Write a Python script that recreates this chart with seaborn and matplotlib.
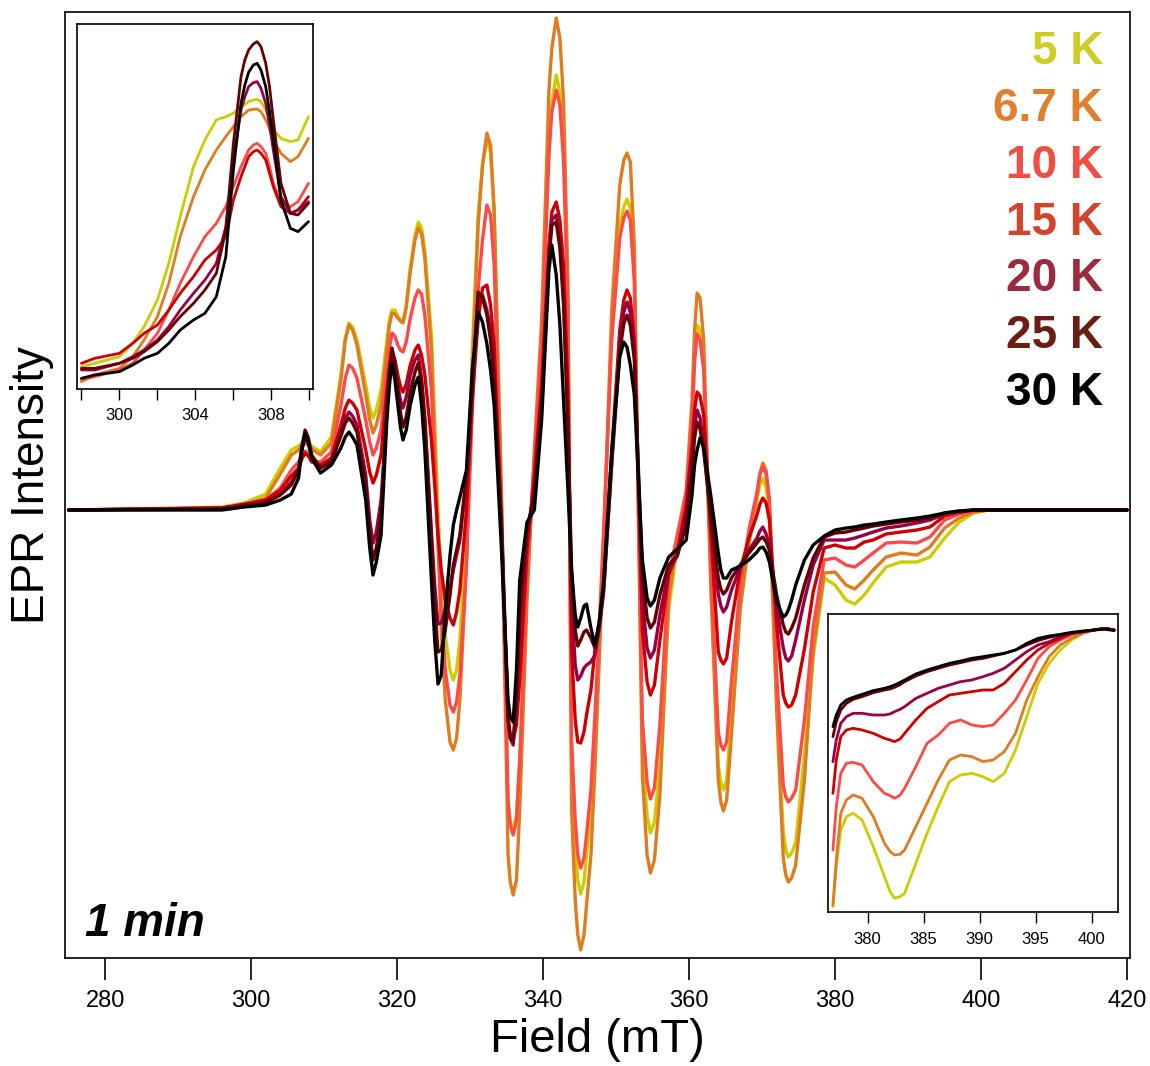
import numpy as np
import pandas as pd
import matplotlib
matplotlib.use("Agg")
import matplotlib.pyplot as plt
import seaborn as sns

sns.set_theme(style="ticks")
plt.rcParams["font.family"] = ["Liberation Sans", "DejaVu Sans"]
plt.rcParams["text.color"] = "black"
plt.rcParams["axes.labelcolor"] = "black"
plt.rcParams["xtick.color"] = "black"

# temperatures and colours
temps = ["5 K", "6.7 K", "10 K", "15 K", "20 K", "25 K", "30 K"]
line_colors = ["#cccc00", "#e07b20", "#ff4848", "#cc0000", "#990044", "#660000", "#000000"]
label_colors = ["#cfcc22", "#e0802e", "#f24e43", "#d3442c", "#9c2b40", "#6b1d12", "#000000"]

# main spectrum (field in mT, intensity arb. units)
field = [275.0, 296.0, 299.0, 302.0, 304.0, 305.5, 306.5, 306.95, 307.4, 307.85, 308.3, 309.5,
         311.0, 312.3, 312.9, 313.4, 313.9, 314.5, 315.7, 316.25, 316.7, 317.15, 317.8, 318.6, 318.95, 319.3, 319.7, 320.1,
         320.45, 320.8, 321.25, 321.8, 322.45, 322.9, 323.35, 323.8, 324.7, 325.15, 325.6, 326.05, 326.6, 327.25, 327.7, 328.15, 328.6, 329.5,
         330.3, 331.1, 331.7, 332.3, 332.8, 333.3, 334.3, 335.2, 335.5, 335.9, 336.35, 336.8, 337.8, 338.8,
         339.8, 340.8, 341.2, 341.8, 342.3, 342.8, 343.4, 343.9, 344.4, 344.75, 345.15, 345.6, 345.95, 346.55, 347.1, 347.7, 348.3,
         349.4, 350.5, 351.05, 351.5, 351.95, 352.5, 353.6, 354.25, 354.7, 355.25, 356.0, 357.2, 358.4, 359.6,
         360.4, 360.75, 361.1, 361.5, 362.0, 363.0, 364.0, 364.35, 364.7, 365.15, 365.8, 367.0, 368.2, 369.3,
         369.7, 370.1, 370.55, 371.0, 372.0, 372.9, 373.25, 373.6, 374.05, 374.6, 375.8, 377.0, 378.5, 380.0,
         381.5, 382.7, 384.0, 385.2, 387.0, 389.0, 391.2, 393.0, 395.0, 397.0, 399.0, 401.0, 404.0, 420.0]

epr_5k = [0, 3, 7, 16, 42, 60, 64, 67, 69, 67, 64, 58,
          73, 135, 172, 187, 183, 170, 125, 102, 92, 100, 120, 170, 190, 200, 200, 194,
          190, 188, 205, 242, 275, 288, 282, 260, 175, 90, 0, -75, -125, -160, -170, -160, -130, -15,
          160, 295, 345, 370, 358, 295, 20, -295, -312, -320, -305, -250, -70, 50,
          170, 365, 408, 435, 418, 365, 210, -250, -335, -370, -384, -372, -345, -300, -224, -130, -25,
          175, 285, 303, 311, 302, 235, -240, -305, -323, -312, -255, -100, -35, 5,
          90, 155, 185, 180, 145, -80, -255, -272, -280, -270, -205, -93, -35, 10,
          25, 32, 22, -5, -195, -322, -340, -347, -343, -333, -245, -147, -68, -75,
          -90, -94, -85, -73, -57, -52, -52, -47, -28, -12, -3, 0, 0, 0]
epr_6k7 = [0, 2, 5, 12, 36, 55, 60, 64, 67, 65, 61, 55,
           67, 130, 170, 185, 180, 165, 115, 90, 77, 85, 105, 160, 185, 197, 196, 192,
           189, 187, 202, 238, 270, 282, 276, 252, 160, 65, -30, -120, -190, -232, -240, -228, -190, -55,
           140, 285, 345, 377, 365, 300, 10, -345, -372, -385, -370, -300, -90, 60,
           190, 420, 462, 492, 472, 410, 230, -300, -390, -425, -440, -425, -395, -345, -260, -150, -30,
           200, 325, 350, 357, 348, 265, -265, -345, -363, -350, -285, -90, -25, 20,
           110, 180, 217, 212, 170, -80, -270, -292, -301, -290, -225, -100, -30, 15,
           36, 47, 40, 10, -200, -348, -365, -372, -368, -355, -270, -140, -63, -62,
           -75, -79, -70, -60, -47, -43, -45, -37, -18, -8, -2, 0, 0, 0]
epr_10k = [0, 2, 5, 10, 22, 40, 48, 55, 59, 56, 50, 48,
           58, 105, 132, 145, 142, 132, 90, 68, 55, 62, 80, 140, 162, 177, 174, 165,
           160, 158, 168, 192, 212, 220, 216, 195, 120, 45, -30, -100, -160, -195, -202, -192, -165, -55,
           100, 220, 270, 305, 295, 245, 0, -290, -315, -325, -310, -250, -65, 50,
           165, 355, 398, 420, 405, 350, 200, -230, -310, -345, -358, -348, -325, -280, -205, -115, -20,
           170, 272, 292, 299, 290, 228, -210, -272, -289, -278, -215, -65, -25, 15,
           90, 148, 176, 170, 140, -60, -222, -235, -240, -232, -172, -75, -20, 18,
           36, 43, 36, 10, -165, -275, -287, -292, -288, -280, -210, -117, -50, -48,
           -55, -57, -50, -43, -33, -32, -33, -27, -10, -4, -1, 0, 0, 0]
epr_15k = [0, 2, 6, 10, 20, 34, 42, 51, 57, 54, 48, 45,
           52, 85, 102, 110, 107, 100, 60, 38, 27, 35, 55, 120, 143, 158, 150, 135,
           124, 118, 126, 145, 160, 165, 155, 135, 70, 25, -25, -60, -90, -108, -115, -102, -80, 0,
           110, 190, 222, 225, 205, 165, -20, -210, -225, -230, -215, -170, -40, 35,
           125, 265, 298, 308, 290, 245, 120, -140, -210, -232, -233, -222, -205, -180, -140, -110, -75,
           58, 180, 210, 220, 212, 170, -120, -172, -185, -175, -130, -65, -42, 5,
           65, 100, 118, 114, 95, -25, -142, -150, -154, -148, -112, -60, -28, -5,
           6, 12, 7, -10, -115, -185, -193, -197, -195, -185, -139, -82, -38, -35,
           -38, -38, -32, -30, -24, -22, -20, -17, -6, -2, 0, 0, 0, 0]
epr_20k = [0, 2, 5, 8, 16, 28, 40, 60, 73, 66, 52, 42,
           50, 78, 92, 98, 94, 85, 35, -10, -33, -22, 10, 100, 135, 154, 145, 125,
           110, 102, 113, 135, 150, 155, 132, 91, -21, -75, -114, -113, -100, -78, -60, -45, -30, 30,
           120, 215, 215, 200, 180, 140, -10, -205, -228, -235, -195, -120, -25, 20,
           110, 255, 290, 295, 270, 215, 90, -90, -155, -170, -166, -158, -155, -152, -145, -118, -82,
           49, 169, 198, 208, 198, 160, -90, -138, -148, -140, -105, -60, -46, -5,
           50, 85, 100, 92, 66, -13, -84, -96, -102, -97, -80, -58, -40, -28,
           -21, -17, -24, -35, -97, -138, -148, -151, -146, -130, -90, -55, -30, -30,
           -30, -28, -25, -22, -18, -16, -13, -10, -4, -2, 0, 0, 0, 0]
epr_25k = [0, 1, 4, 7, 15, 25, 40, 64, 80, 72, 55, 42,
           48, 74, 87, 92, 87, 78, 25, -22, -50, -38, -5, 100, 140, 162, 148, 120,
           98, 83, 93, 118, 138, 147, 128, 90, -30, -95, -142, -140, -120, -85, -55, -40, -25, 35,
           125, 218, 212, 195, 170, 130, -20, -210, -228, -232, -185, -100, -18, 15,
           100, 250, 285, 288, 262, 205, 85, -60, -120, -136, -130, -122, -120, -128, -138, -115, -78,
           45, 158, 186, 195, 185, 150, -65, -108, -118, -112, -85, -55, -45, -15,
           40, 72, 88, 81, 59, -8, -68, -79, -84, -80, -68, -55, -43, -33,
           -29, -27, -32, -40, -85, -115, -122, -124, -118, -108, -75, -48, -27, -23,
           -22, -20, -18, -16, -14, -12, -10, -8, -3, -1, 0, 0, 0, 0]
epr_30k = [0, 0, 3, 5, 10, 16, 32, 60, 77, 68, 52, 37,
           45, 62, 73, 78, 73, 65, 10, -38, -65, -52, -25, 90, 125, 147, 130, 105,
           83, 70, 80, 105, 125, 133, 105, 60, -70, -130, -174, -165, -100, -45, -15, 0, 13, 40,
           140, 198, 188, 166, 140, 105, -40, -190, -207, -212, -160, -70, -12, 0,
           90, 240, 265, 235, 185, 110, 20, -60, -105, -117, -108, -96, -94, -118, -135, -112, -71,
           59, 153, 168, 163, 145, 115, -50, -88, -96, -90, -68, -47, -39, -30,
           15, 45, 60, 72, 63, 13, -43, -60, -68, -68, -60, -56, -50, -42,
           -38, -37, -42, -52, -92, -107, -105, -100, -90, -75, -50, -35, -26, -20,
           -18, -17, -15, -14, -12, -10, -8, -6, -3, -1, 0, 0, 0, 0]

# low-field inset (298-310 mT)
field_low = [298.0, 298.7, 300.0, 300.7, 301.3, 302.0, 302.6, 303.2, 303.9, 304.5, 305.1, 305.6, 306.0,
             306.4, 306.6, 306.8, 307.05, 307.25, 307.45, 307.7, 307.9, 308.1, 308.5, 309.0, 309.4, 309.95]
low_5k = [6.7, 7.7, 9.7, 13.7, 18.7, 26.7, 37.7, 51.7, 66.7, 74.7, 80.7, 81.7, 82.7,
          84.7, 85.4, 86.2, 86.7, 86.9, 86.2, 83.7, 81.2, 77.7, 75.2, 74.2, 74.7, 81.7]
low_6k7 = [2.2, 4.2, 6.2, 9.7, 14.7, 21.7, 31.7, 45.7, 57.7, 65.7, 71.7, 75.7, 78.7,
           81.7, 82.7, 83.7, 83.9, 84.0, 83.2, 80.7, 78.2, 74.7, 70.7, 68.2, 69.7, 75.2]
low_10k = [2.7, 3.7, 5.7, 7.7, 11.7, 16.7, 23.7, 31.7, 39.7, 45.7, 49.7, 54.7, 60.7,
           66.7, 69.2, 71.7, 73.2, 73.7, 72.7, 70.7, 66.7, 61.7, 55.7, 54.7, 56.2, 61.7]
low_15k = [7.7, 9.2, 10.7, 13.7, 16.7, 19.2, 23.7, 28.7, 33.7, 38.7, 41.7, 45.7, 56.7,
           63.7, 66.7, 69.7, 71.2, 71.7, 70.7, 68.7, 64.7, 60.7, 54.7, 52.7, 53.7, 57.7]
low_20k = [5.7, 5.7, 7.7, 9.7, 11.7, 14.7, 18.7, 23.7, 28.7, 32.7, 37.7, 48.7, 68.7,
           83.7, 87.7, 90.7, 91.9, 92.2, 90.2, 85.7, 79.2, 71.7, 57.7, 52.7, 53.7, 56.2]
low_25k = [6.2, 6.2, 7.7, 9.2, 11.2, 14.2, 17.7, 21.7, 25.7, 29.7, 34.7, 47.7, 73.7,
           93.7, 98.7, 101.7, 103.5, 104.2, 102.7, 97.7, 90.7, 80.7, 61.7, 52.7, 52.2, 55.7]
low_30k = [3.2, 4.2, 5.2, 7.2, 9.2, 10.7, 13.7, 17.7, 20.7, 22.7, 27.7, 39.7, 65.7,
           85.7, 91.2, 95.0, 97.2, 97.7, 95.7, 90.7, 83.2, 74.7, 56.7, 48.2, 47.2, 50.2]

# high-field inset (377-402 mT)
field_high = [376.9, 377.2, 377.6, 378.1, 378.7, 379.5, 380.5, 381.5, 382.0, 382.4, 382.9,
              383.3, 384.3, 385.3, 386.3, 387.3, 388.3, 389.3, 390.3, 391.2, 392.2, 393.2,
              394.2, 395.2, 396.2, 397.2, 398.2, 399.2, 400.2, 401.2, 402.0]
high_5k = [1.7, 13.7, 24.7, 28.7, 29.7, 27.7, 19.7, 10.7, 6.2, 4.2, 4.7,
           5.7, 14.7, 23.7, 31.7, 39.2, 41.2, 41.7, 40.7, 39.2, 41.7, 48.7,
           58.7, 68.7, 74.7, 78.7, 81.7, 83.7, 84.7, 85.2, 84.7]
high_6k7 = [2.2, 15.7, 29.7, 33.7, 35.2, 34.2, 28.7, 20.7, 18.2, 17.2, 17.4,
            18.7, 25.7, 32.7, 39.7, 45.7, 47.2, 46.7, 45.2, 45.7, 48.2, 53.7,
            63.7, 70.7, 76.7, 80.2, 82.2, 83.7, 84.7, 85.2, 84.7]
high_10k = [18.7, 31.7, 41.7, 44.7, 45.0, 44.2, 39.2, 35.7, 35.0, 34.2, 35.2,
            37.2, 43.7, 50.7, 53.2, 56.7, 57.7, 56.2, 55.7, 56.2, 59.7, 63.7,
            69.7, 76.2, 79.7, 81.7, 83.2, 84.2, 84.7, 85.2, 84.7]
high_15k = [35.7, 45.7, 52.7, 54.7, 55.2, 54.7, 53.7, 52.2, 51.7, 51.2, 52.0,
            53.7, 57.7, 61.2, 63.2, 65.2, 65.7, 66.2, 66.7, 66.7, 68.7, 72.2,
            75.7, 78.7, 80.7, 82.2, 83.7, 84.2, 84.7, 85.2, 84.7]
high_20k = [45.2, 51.7, 56.7, 58.7, 59.7, 59.7, 59.2, 59.2, 59.5, 60.2, 60.9,
            61.7, 64.2, 65.7, 67.2, 68.2, 69.2, 69.7, 70.7, 71.7, 73.2, 75.7,
            78.2, 80.2, 81.2, 82.7, 83.7, 84.2, 84.7, 85.2, 84.7]
high_25k = [52.7, 57.2, 60.7, 62.7, 63.9, 64.7, 65.9, 66.7, 67.0, 67.5, 68.3,
            69.2, 70.9, 72.2, 73.2, 74.2, 74.9, 75.7, 76.2, 76.9, 77.7, 78.7,
            80.2, 81.5, 82.5, 83.2, 83.9, 84.2, 84.7, 85.2, 84.7]
high_30k = [55.7, 59.2, 62.2, 63.7, 64.5, 65.4, 66.5, 67.2, 67.7, 68.2, 69.0,
            69.7, 71.5, 72.7, 73.7, 74.7, 75.4, 76.2, 76.7, 77.2, 77.7, 78.7,
            80.7, 82.2, 82.9, 83.4, 84.0, 84.4, 84.7, 84.9, 84.5]


def long_form(x, series):
    """stack the temperature series into one long table"""
    frames = [pd.DataFrame({"field": x, "intensity": y, "temp": t})
              for t, y in zip(temps, series)]
    return pd.concat(frames, ignore_index=True)


main_df = long_form(field, [epr_5k, epr_6k7, epr_10k, epr_15k, epr_20k, epr_25k, epr_30k])
low_df = long_form(field_low, [low_5k, low_6k7, low_10k, low_15k, low_20k, low_25k, low_30k])
high_df = long_form(field_high, [high_5k, high_6k7, high_10k, high_15k, high_20k, high_25k, high_30k])
palette = dict(zip(temps, line_colors))

fig = plt.figure(figsize=(11.5, 10.66), dpi=100)
ax = fig.add_axes([0.0565, 0.1013, 0.9261, 0.8874])
sns.lineplot(data=main_df, x="field", y="intensity", hue="temp", hue_order=temps,
             palette=palette, estimator=None, sort=False, legend=False, lw=2.4, ax=ax)
ax.set_xlim(274.5, 420.4)
ax.set_ylim(-448, 498)
ax.set_xticks(np.arange(280, 421, 20))
ax.set_yticks([])
ax.tick_params(axis="x", direction="out", length=16, width=1.2, labelsize=17, pad=7)
for s in ax.spines.values():
    s.set_linewidth(1.2)
    s.set_color("black")
ax.set_xlabel("Field (mT)", fontsize=34, labelpad=4)
ax.set_ylabel("EPR Intensity", fontsize=33, labelpad=8)

# temperature labels
for i, (t, c) in enumerate(zip(temps, label_colors)):
    ax.text(0.9746, 0.9577 - i * 0.0601, t, transform=ax.transAxes, ha="right", va="center",
            fontsize=33, fontweight="bold", color=c)
ax.text(0.019, 0.036, "1 min", transform=ax.transAxes, ha="left", va="center",
        fontsize=33, fontweight="bold", fontstyle="italic")

# inset: low field
ax1 = fig.add_axes([0.067, 0.6351, 0.2052, 0.3424])
ax1.set_facecolor("white")
sns.lineplot(data=low_df, x="field", y="intensity", hue="temp", hue_order=temps,
             palette=palette, estimator=None, sort=False, legend=False, lw=2.0, ax=ax1)
ax1.set_xlim(297.77, 310.19)
ax1.set_ylim(0, 109.5)
ax1.set_xticks([300, 304, 308])
ax1.set_xticks([298, 302, 306, 310], minor=True)
ax1.set_yticks([])
ax1.tick_params(axis="x", which="both", direction="out", length=8, width=1.0, labelsize=12, pad=6)

# inset: high field
ax2 = fig.add_axes([0.7203, 0.1442, 0.2522, 0.2795])
ax2.set_facecolor("white")
sns.lineplot(data=high_df, x="field", y="intensity", hue="temp", hue_order=temps,
             palette=palette, estimator=None, sort=False, legend=False, lw=2.0, ax=ax2)
ax2.set_xlim(376.49, 402.38)
ax2.set_ylim(0, 89.4)
ax2.set_xticks([380, 385, 390, 395, 400])
ax2.set_yticks([])
ax2.tick_params(axis="x", direction="out", length=8, width=1.0, labelsize=12, pad=6)

for a in (ax1, ax2):
    a.set_xlabel("")
    a.set_ylabel("")
    for s in a.spines.values():
        s.set_linewidth(1.2)
        s.set_color("black")

fig.savefig("out.png", dpi=100)
